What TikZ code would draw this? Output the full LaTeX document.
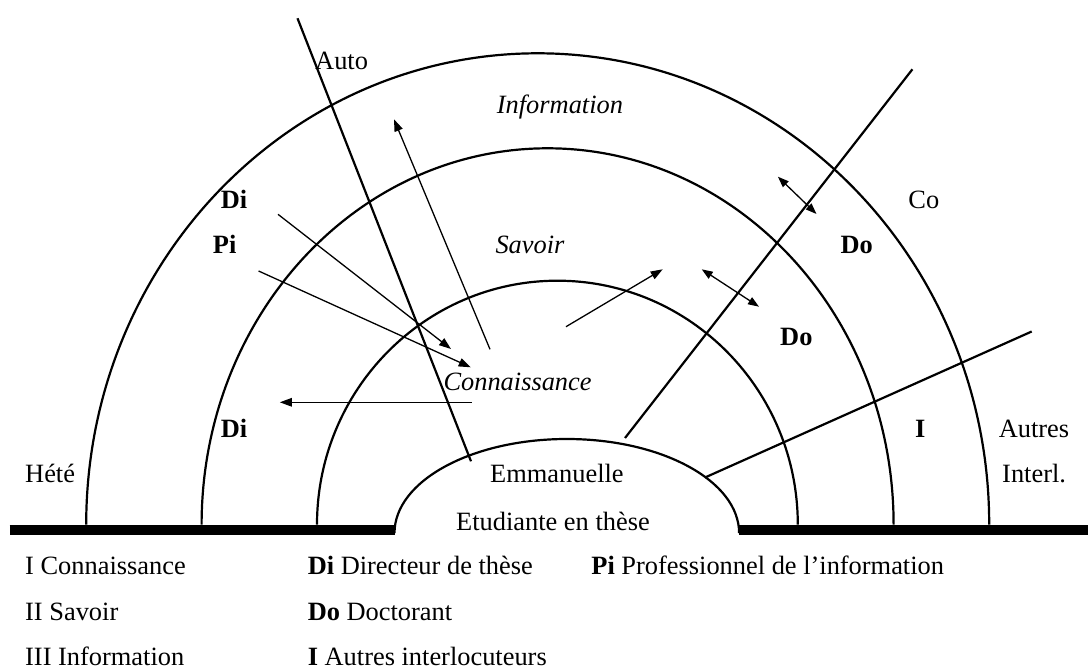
\documentclass[tikz,border=0pt]{standalone}
\usepackage{fontspec}
\setmainfont{Liberation Serif}
\usetikzlibrary{arrows.meta}
\begin{document}
\begin{tikzpicture}[x=1pt,y=-1pt,
  ring/.style={line width=2.2pt},
  axisline/.style={line width=2.2pt},
  flow/.style={line width=1.3pt,-{Triangle[length=12pt,width=8.5pt]}},
  twoway/.style={line width=1.3pt,{Triangle[length=11pt,width=8pt]}-{Triangle[length=11pt,width=8pt]}},
  lbl/.style={anchor=base west,inner sep=0pt,font=\fontsize{26.4}{32}\selectfont},
  groundbar/.style={line width=10pt}]
\useasboundingbox (0,0) rectangle (1090,668);
% rings
\draw[ring] (86.2,524.7) arc[start angle=180,end angle=360,x radius=451.5,y radius=471.4];
\draw[ring] (201.6,524.7) arc[start angle=180,end angle=360,x radius=346,y radius=376.4];
\draw[ring] (317,524.7) arc[start angle=180,end angle=360,x radius=240.4,y radius=244];
\draw[ring] (394.5,533) arc[start angle=180,end angle=360,x radius=172.3,y radius=94];
% ground
\coordinate (gL1) at (9.7,529.7);
\coordinate (gL2) at (394.5,529.7);
\coordinate (gR1) at (739,529.7);
\coordinate (gR2) at (1088,529.7);
\draw[groundbar] (gL1) -- (gL2);
\draw[groundbar] (gR1) -- (gR2);
% axes
\coordinate (autoT) at (297.5,18.3);
\coordinate (autoB) at (471,461.3);
\coordinate (coT) at (912.4,69.3);
\coordinate (coB) at (625,438);
\coordinate (aiT) at (1031.7,331.5);
\coordinate (aiB) at (705,477.5);
\draw[axisline] (autoT) -- (autoB);
\draw[axisline] (coT) -- (coB);
\draw[axisline] (aiT) -- (aiB);
% arrows
\coordinate (upS) at (490,349.3);
\coordinate (upE) at (394,119.3);
\coordinate (diS) at (278,214.3);
\coordinate (diE) at (451,349);
\coordinate (piS) at (258.6,271);
\coordinate (piE) at (470.7,367.3);
\coordinate (lfS) at (471.7,402.3);
\coordinate (lfE) at (279.8,402.3);
\coordinate (dgS) at (566,326.7);
\coordinate (dgE) at (662.7,269.3);
\coordinate (d1A) at (777.9,176.7);
\coordinate (d1B) at (816.5,214);
\coordinate (d2A) at (701.7,269.3);
\coordinate (d2B) at (759,306.7);
\draw[flow] (upS) -- (upE);
\draw[flow] (diS) -- (diE);
\draw[flow] (piS) -- (piE);
\draw[flow] (lfS) -- (lfE);
\draw[flow] (dgS) -- (dgE);
\draw[twoway] (d1A) -- (d1B);
\draw[twoway] (d2A) -- (d2B);
% labels
\node[lbl] (tAuto) at (315,69.3) {Auto};
\node[lbl] (tInfo) at (496.7,113.3) {\itshape Information};
\node[lbl] (tDi1) at (220.7,208.3) {\bfseries Di};
\node[lbl] (tPi) at (212.7,253.3) {\bfseries Pi};
\node[lbl] (tSav) at (495.3,253.3) {\itshape Savoir};
\node[lbl] (tCo) at (908.2,208.3) {Co};
\node[lbl] (tDo1) at (840.4,253.3) {\bfseries Do};
\node[lbl] (tDo2) at (780,346) {\bfseries Do};
\node[lbl] (tCon) at (443.3,390.7) {\itshape Connaissance};
\node[lbl] (tDi2) at (220.7,437.3) {\bfseries Di};
\node[lbl] (tI) at (915,437.3) {\bfseries I};
\node[lbl] (tAut) at (998.6,437.3) {Autres};
\node[lbl] (tHet) at (25,482.3) {Hété};
\node[lbl] (tEmm) at (490,482.3) {Emmanuelle};
\node[lbl] (tInt) at (1002,482.3) {Interl.};
\node[lbl] (tEtu) at (456,530) {Etudiante en thèse};
% legend
\node[lbl] (l1) at (25,574.7) {I Connaissance};
\node[lbl] (l2) at (25,620.7) {II Savoir};
\node[lbl] (l3) at (25,665) {III Information};
\node[lbl] (l4) at (307.6,574.7) {\textbf{Di} Directeur de thèse};
\node[lbl] (l5) at (307.6,620.7) {\textbf{Do} Doctorant};
\node[lbl] (l6) at (307.6,665) {\textbf{I} Autres interlocuteurs};
\node[lbl] (l7) at (591.2,574.7) {\textbf{Pi} Professionnel de l’information};
\end{tikzpicture}
\end{document}
